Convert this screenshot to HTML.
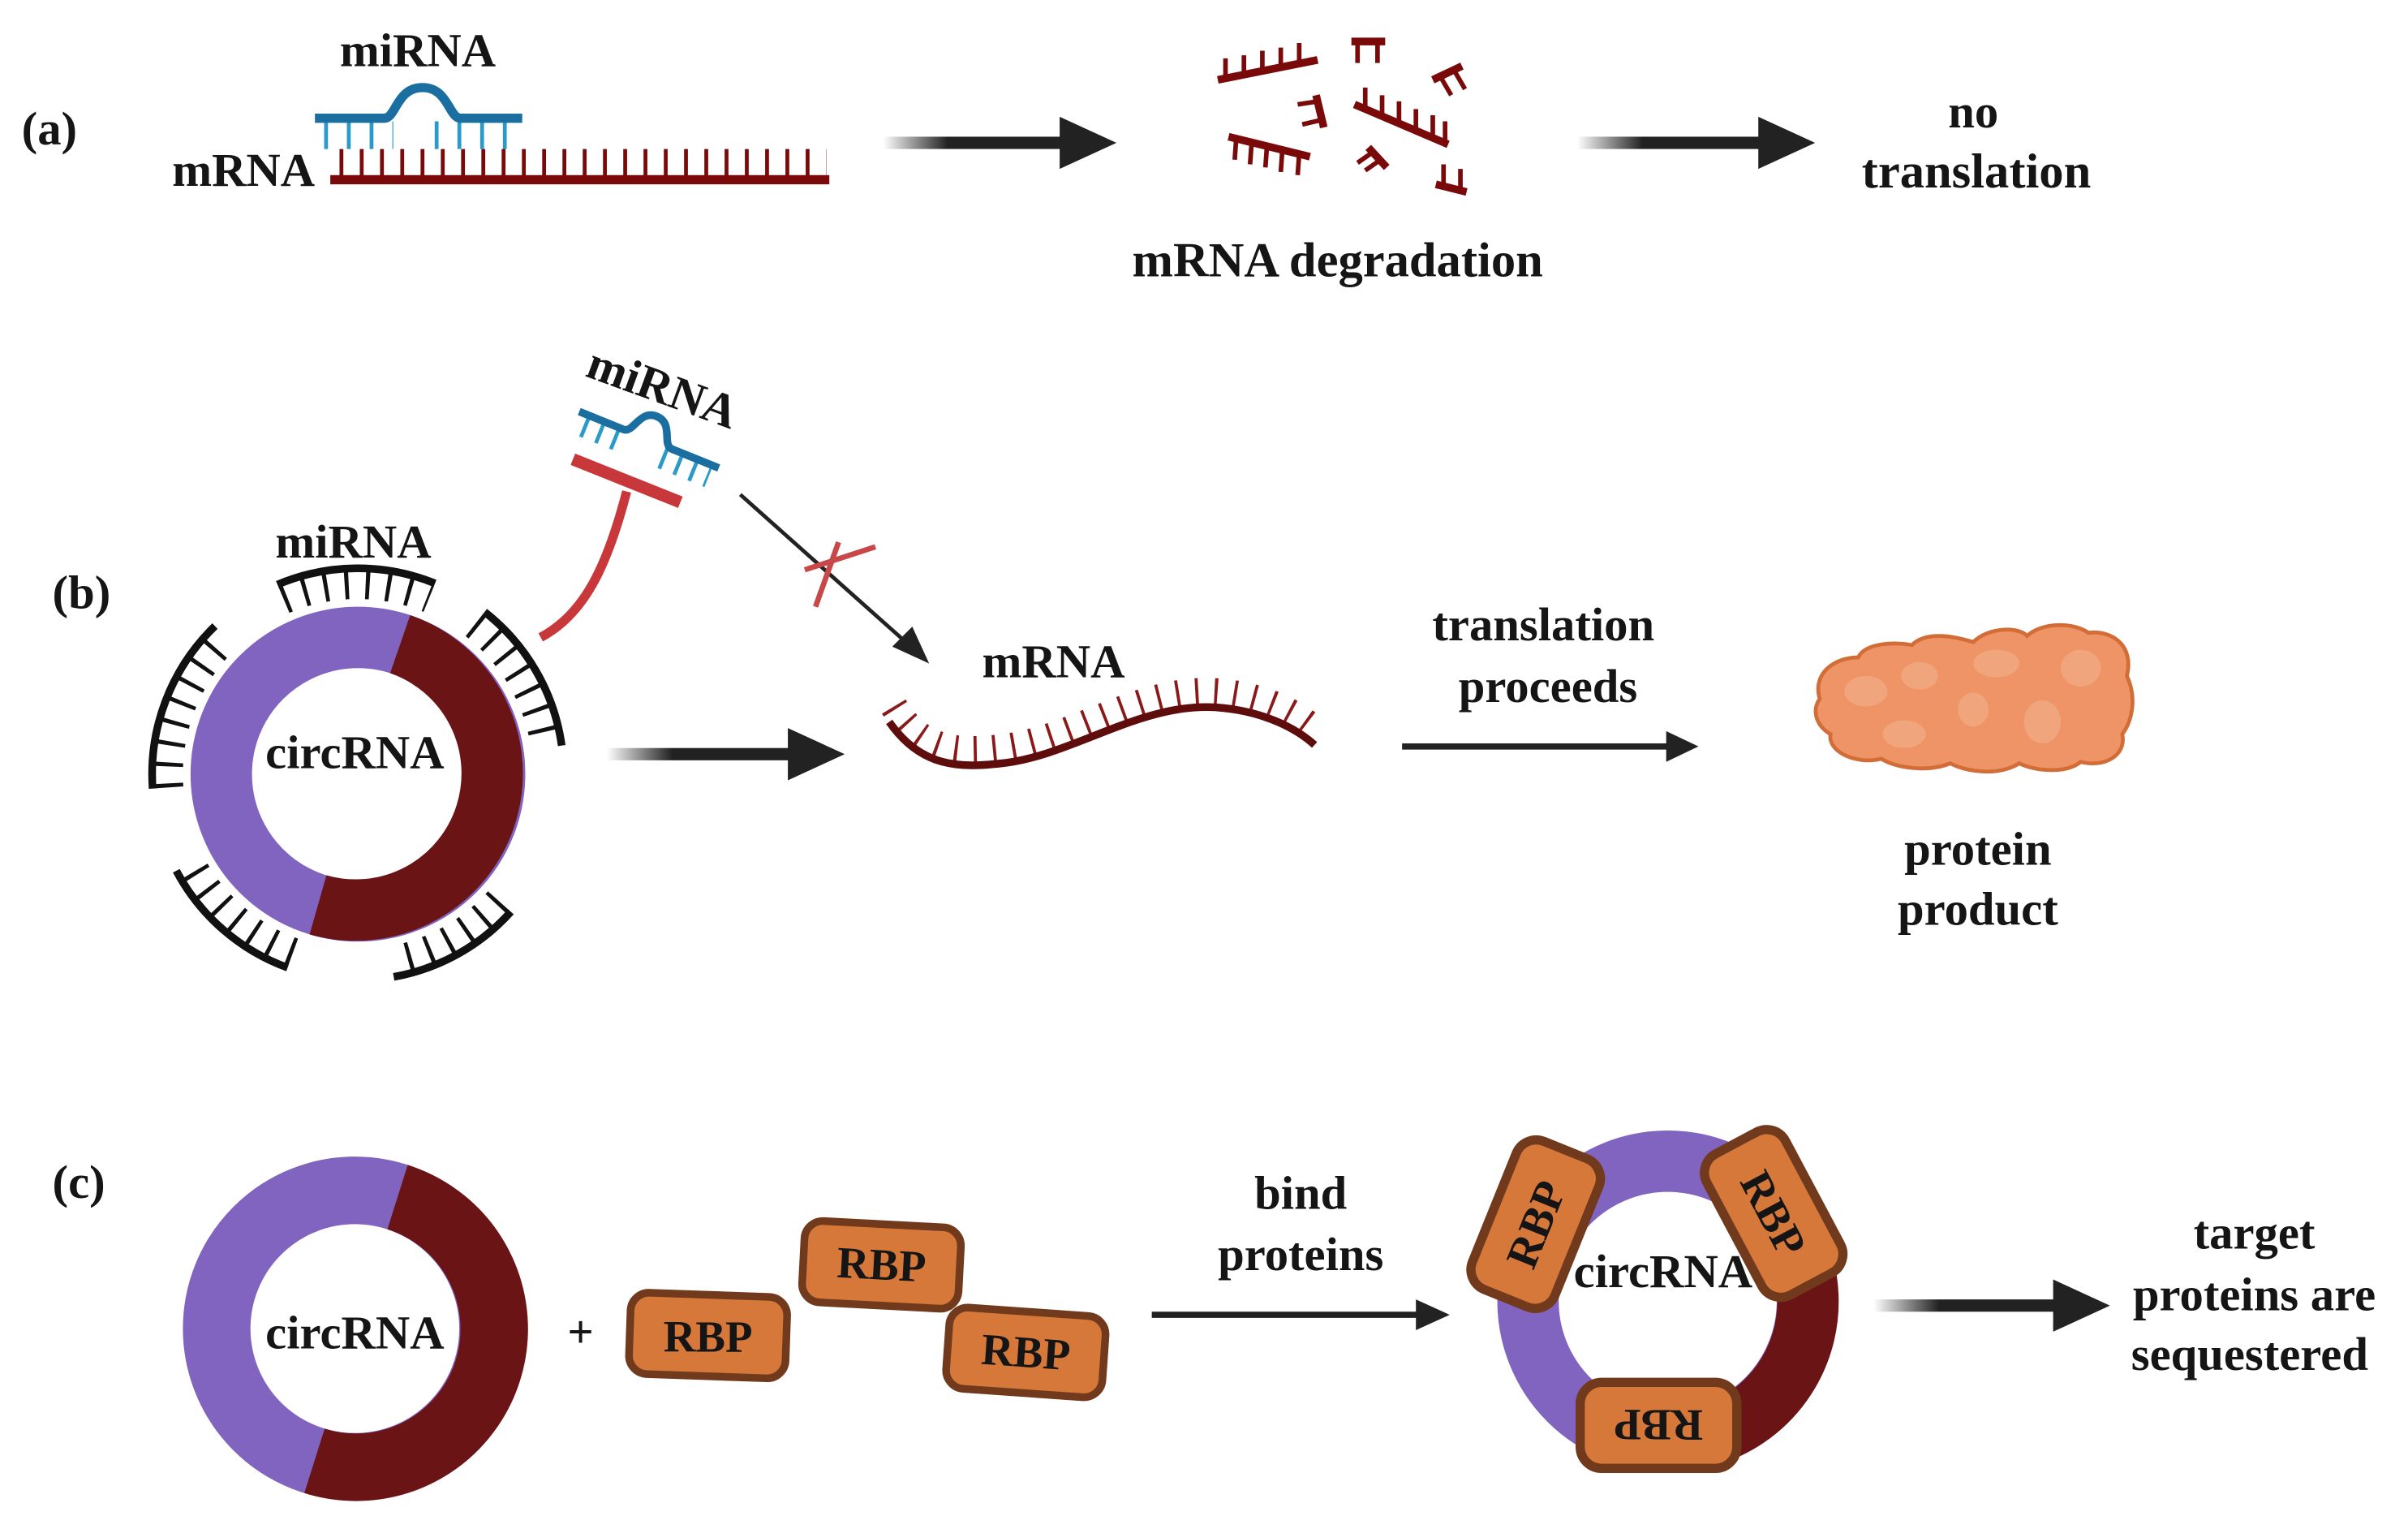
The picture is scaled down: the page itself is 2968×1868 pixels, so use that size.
<!DOCTYPE html>
<html><head><meta charset="utf-8"><style>
html,body{margin:0;padding:0;background:#fff;}
svg{display:block;}
text{font-family:"Liberation Serif",serif;font-weight:bold;fill:#151515;}
</style></head><body>
<svg width="2968" height="1868" viewBox="0 0 1568 987" xmlns="http://www.w3.org/2000/svg">
<defs>
<linearGradient id="gA" x1="0" x2="1" y1="0" y2="0">
<stop offset="0" stop-color="#222" stop-opacity="0"/><stop offset="0.35" stop-color="#222" stop-opacity="1"/><stop offset="1" stop-color="#222"/>
</linearGradient>
</defs>

<!-- ===== (a) ===== -->
<text x="14" y="94" font-size="31" font-weight="normal">(a)</text>
<text x="272" y="43" font-size="31" text-anchor="middle">miRNA</text>
<text x="205" y="121" font-size="31" text-anchor="end">mRNA</text>
<line x1="221" y1="107" x2="538" y2="107" stroke="#7a0a0a" stroke-width="20" stroke-dasharray="2.5 10.7"/>
<line x1="215" y1="117" x2="540" y2="117" stroke="#7a0a0a" stroke-width="6"/>
<line x1="211" y1="88" x2="256" y2="88" stroke="#2a9ac8" stroke-width="18" stroke-dasharray="2.5 12.3"/>
<line x1="283" y1="88" x2="330" y2="88" stroke="#2a9ac8" stroke-width="18" stroke-dasharray="2.5 12.3"/>
<path d="M205 77 H250 C258 77 258 57 275 57 C292 57 292 77 300 77 H340" fill="none" stroke="#1a6fa0" stroke-width="6"/>
<rect x="575" y="89" width="120" height="8" fill="url(#gA)"/>
<polygon points="690,76 727,93 690,110" fill="#222"/>
<g stroke="#7a0a0a" fill="none">
<line x1="793" y1="52" x2="858" y2="39" stroke-width="5"/>
<path d="M798 51v-13M810 49v-13M822 46v-13M834 44v-13M846 41v-13" stroke-width="3"/>
<line x1="880" y1="27" x2="902" y2="27" stroke-width="5"/>
<path d="M884 27v14M897 27v14" stroke-width="3"/>
<line x1="857" y1="62" x2="862" y2="83" stroke-width="5"/>
<path d="M858 66l-13 2M861 78l-13 3" stroke-width="3"/>
<line x1="882" y1="68" x2="943" y2="94" stroke-width="5"/>
<path d="M889 71v-14M900 76v-14M911 80v-14M922 85v-14M933 89v-14M941 93v-14" stroke-width="3"/>
<line x1="933" y1="52" x2="952" y2="43" stroke-width="5"/>
<path d="M938 50l7 12M947 46l7 12" stroke-width="3"/>
<line x1="800" y1="89" x2="853" y2="102" stroke-width="5"/>
<path d="M805 90l-1 14M815 93l-1 14M825 95l-1 14M835 98l-1 14M846 100l-1 14" stroke-width="3"/>
<line x1="891" y1="96" x2="903" y2="109" stroke-width="5"/>
<path d="M894 99l-10 7M899 104l-10 7" stroke-width="3"/>
<line x1="935" y1="120" x2="955" y2="125" stroke-width="5"/>
<path d="M940 121v-14M951 124v-14" stroke-width="3"/>
</g>
<text x="871" y="180" font-size="32" text-anchor="middle">mRNA degradation</text>
<rect x="1027" y="89" width="122" height="8" fill="url(#gA)"/>
<polygon points="1145,76 1182,93 1145,110" fill="#222"/>
<text x="1285" y="83" font-size="31" text-anchor="middle">no</text>
<text x="1287" y="122" font-size="32" text-anchor="middle">translation</text>

<!-- ===== (b) ===== -->
<text x="34" y="396" font-size="31" font-weight="normal">(b)</text>
<text x="230" y="363" font-size="31" text-anchor="middle">miRNA</text>
<circle cx="233" cy="504" r="89" fill="none" stroke="#8064c0" stroke-width="40"/>
<path d="M260.5 419.4 A89 89 0 0 1 207 589.1" fill="none" stroke="#6b1416" stroke-width="40"/>
<text x="231" y="500" font-size="31" text-anchor="middle">circRNA</text>
<g fill="none" stroke="#111">
<path d="M180.6 380.6 A134 134 0 0 1 283.2 379.8" stroke-width="5"/>
<path d="M184.9 390.7 A123 123 0 0 1 279.1 390" stroke-width="18" stroke-dasharray="2.6 11"/>
<path d="M315.5 398.4 A134 134 0 0 1 365.7 485.4" stroke-width="5"/>
<path d="M308.7 407.1 A123 123 0 0 1 354.8 486.9" stroke-width="18" stroke-dasharray="2.6 11"/>
<path d="M99.3 513.4 A134 134 0 0 1 139.9 407.6" stroke-width="5"/>
<path d="M110.3 512.6 A123 123 0 0 1 147.6 415.5" stroke-width="18" stroke-dasharray="2.6 11"/>
<path d="M187.2 630 A134 134 0 0 1 114.7 566.9" stroke-width="5"/>
<path d="M190.9 619.6 A123 123 0 0 1 124.4 561.7" stroke-width="18" stroke-dasharray="2.6 11"/>
<path d="M332.6 593.6 A134 134 0 0 1 256.3 636" stroke-width="5"/>
<path d="M324.4 586.3 A123 123 0 0 1 254.4 625.1" stroke-width="18" stroke-dasharray="2.6 11"/>
</g>
<g transform="rotate(22 422 285)">
<line x1="380" y1="294" x2="408" y2="294" stroke="#2a9ac8" stroke-width="14" stroke-dasharray="2.5 8"/>
<line x1="435" y1="294" x2="468" y2="294" stroke="#2a9ac8" stroke-width="14" stroke-dasharray="2.5 8"/>
<path d="M374 286 H405 C412 286 410 270 422 270 C434 270 432 286 439 286 H472" fill="none" stroke="#1a6fa0" stroke-width="5"/>
</g>
<text x="0" y="0" font-size="31" text-anchor="middle" transform="translate(428 262) rotate(20)">miRNA</text>
<path d="M352 415 C380 400 395 370 408 320" fill="none" stroke="#c8383a" stroke-width="6"/>
<line x1="373" y1="299" x2="443" y2="327" stroke="#c8383a" stroke-width="8"/>
<line x1="482" y1="322" x2="592" y2="420" stroke="#222" stroke-width="2.5"/>
<polygon points="605,432 581,421 594,408" fill="#222"/>
<path d="M524 371 L570 356 M531 395 L546 353" stroke="#c8484a" stroke-width="3.5" fill="none"/>
<rect x="395" y="487" width="122" height="8" fill="url(#gA)"/>
<polygon points="513,474 550,491 513,508" fill="#222"/>
<!-- wavy mRNA -->
<path d="M582 470 C600 500 625 500 652 497 C700 492 745 455 797 461 C825 464 845 475 856 485" fill="none" stroke="#8a1a1a" stroke-width="18" stroke-dasharray="2 10.5" transform="translate(0,-10)"/>
<path d="M579 470 C600 500 625 500 652 497 C700 492 745 455 797 461 C825 464 845 475 856 485" fill="none" stroke="#5e0c0c" stroke-width="5"/>
<text x="686" y="441" font-size="31" text-anchor="middle">mRNA</text>
<text x="1005" y="417" font-size="31" text-anchor="middle">translation</text>
<text x="1008" y="457" font-size="31" text-anchor="middle">proceeds</text>
<line x1="913" y1="486" x2="1088" y2="486" stroke="#222" stroke-width="4"/>
<polygon points="1085,476 1106,486 1085,496" fill="#222"/>
<path d="M1185 455 C1180 438 1195 428 1210 428 C1215 418 1235 418 1245 420 C1255 410 1275 415 1285 418 C1295 408 1315 408 1320 414 C1330 405 1350 405 1360 412 C1375 410 1390 420 1385 440 C1392 455 1388 470 1382 478 C1385 492 1370 500 1355 496 C1345 504 1325 502 1315 497 C1300 506 1280 502 1270 497 C1255 503 1235 500 1225 494 C1210 498 1190 490 1192 478 C1182 472 1180 462 1185 455 Z" fill="#ee9466" stroke="#d26d38" stroke-width="2.5"/>
<g fill="#f3ad88" opacity="0.7">
<ellipse cx="1215" cy="450" rx="14" ry="10"/><ellipse cx="1250" cy="440" rx="12" ry="9"/><ellipse cx="1300" cy="432" rx="15" ry="9"/><ellipse cx="1355" cy="435" rx="13" ry="12"/><ellipse cx="1240" cy="478" rx="14" ry="9"/><ellipse cx="1330" cy="470" rx="12" ry="14"/><ellipse cx="1285" cy="462" rx="10" ry="11"/>
</g>
<text x="1288" y="563" font-size="31" text-anchor="middle">protein</text>
<text x="1288" y="602" font-size="31" text-anchor="middle">product</text>

<!-- ===== (c) ===== -->
<text x="34" y="780" font-size="31" font-weight="normal">(c)</text>
<circle cx="231" cy="865" r="90" fill="none" stroke="#8064c0" stroke-width="44"/>
<path d="M258.8 779.4 A90 90 0 0 1 204.7 951.1" fill="none" stroke="#6b1416" stroke-width="44"/>
<text x="231" y="878" font-size="31" text-anchor="middle">circRNA</text>
<text x="378" y="877" font-size="30" font-weight="normal" text-anchor="middle">+</text>
<g fill="#d6783a" stroke="#723a1c" stroke-width="5">
<rect x="410" y="843" width="102" height="53" rx="12" transform="rotate(2 461 870)"/>
<rect x="523" y="797" width="102" height="53" rx="12" transform="rotate(3 574 823)"/>
<rect x="617" y="854" width="102" height="53" rx="12" transform="rotate(4 668 880)"/>
</g>
<text x="461" y="880" font-size="29" font-weight="normal" text-anchor="middle">RBP</text>
<text x="574" y="833" font-size="29" font-weight="normal" text-anchor="middle" transform="rotate(3 574 823)">RBP</text>
<text x="668" y="890" font-size="29" font-weight="normal" text-anchor="middle" transform="rotate(4 668 880)">RBP</text>
<text x="847" y="787" font-size="31" text-anchor="middle">bind</text>
<text x="847" y="827" font-size="31" text-anchor="middle">proteins</text>
<line x1="750" y1="856" x2="925" y2="856" stroke="#222" stroke-width="4"/>
<polygon points="922,846 944,856 922,866" fill="#222"/>
<circle cx="1086" cy="847" r="91" fill="none" stroke="#8064c0" stroke-width="40"/>
<path d="M1129 767 A91 91 0 0 1 1078 938" fill="none" stroke="#6b1416" stroke-width="40"/>
<text x="1083" y="838" font-size="31" text-anchor="middle">circRNA</text>
<g fill="#d6783a" stroke="#723a1c" stroke-width="6">
<rect x="948" y="768" width="104" height="58" rx="14" transform="rotate(-68 1000 797)"/>
<rect x="1103" y="761" width="104" height="58" rx="14" transform="rotate(62 1155 790)"/>
<rect x="1029" y="900" width="102" height="56" rx="14"/>
</g>
<text x="1000" y="807" font-size="29" font-weight="normal" text-anchor="middle" transform="rotate(-68 1000 797)">RBP</text>
<text x="1155" y="800" font-size="29" font-weight="normal" text-anchor="middle" transform="rotate(62 1155 790)">RBP</text>
<text x="1080" y="938" font-size="29" font-weight="normal" text-anchor="middle" transform="rotate(180 1080 928)">RBP</text>
<rect x="1220" y="846" width="122" height="8" fill="url(#gA)"/>
<polygon points="1337,833 1374,850 1337,867" fill="#222"/>
<text x="1468" y="813" font-size="31" text-anchor="middle">target</text>
<text x="1468" y="853" font-size="31" text-anchor="middle">proteins are</text>
<text x="1465" y="892" font-size="31" text-anchor="middle">sequestered</text>
</svg>
</body></html>
